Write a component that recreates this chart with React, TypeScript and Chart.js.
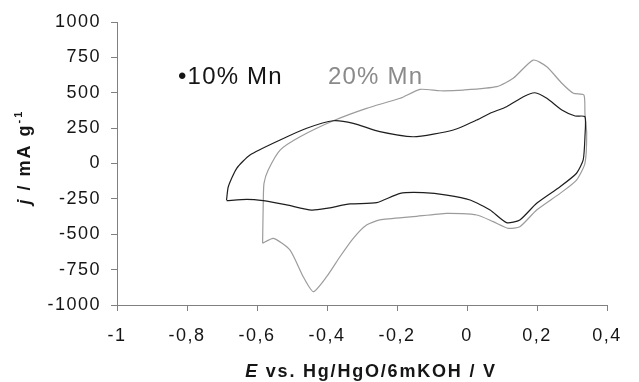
import React, { useEffect, useRef } from "react";
import { Chart, registerables } from "chart.js";

Chart.register(...registerables);

// 10% Mn cyclic voltammogram (closed loop: anodic branch left→right, cathodic branch right→left)
const potential10 = [
  -0.687, -0.682, -0.658, -0.62, -0.534, -0.458, -0.382, -0.325, -0.249, -0.153, -0.039, 0.028, 0.066, 0.113,
  0.161, 0.194, 0.228, 0.271, 0.309, 0.337, 0.337, 0.332, 0.313, 0.266, 0.199, 0.151, 0.113, 0.066, 0.009,
  -0.058, -0.125, -0.191, -0.258, -0.334, -0.401, -0.444, -0.515, -0.582, -0.629, -0.687,
];
const current10 = [
  -258, -164, -34, 60, 166, 249, 302, 284, 225, 189, 237, 307, 355, 401, 472, 500, 461, 378, 336, 331, 189, 25,
  -69, -164, -281, -399, -418, -329, -258, -223, -206, -211, -277, -286, -317, -329, -293, -263, -253, -263,
];

// 20% Mn cyclic voltammogram
const potential20 = [
  -0.584, -0.582, -0.58, -0.568, -0.534, -0.477, -0.382, -0.287, -0.191, -0.134, -0.077, -0.011, 0.085, 0.132,
  0.189, 0.228, 0.271, 0.304, 0.334, 0.337, 0.342, 0.337, 0.313, 0.266, 0.199, 0.151, 0.118, 0.075, 0.028,
  -0.058, -0.153, -0.249, -0.287, -0.325, -0.363, -0.401, -0.439, -0.468, -0.506, -0.553, -0.584,
];
const current20 = [
  -564, -258, -140, -46, 95, 189, 302, 390, 461, 524, 514, 519, 543, 602, 731, 684, 567, 496, 484, 355, 213, 1,
  -117, -211, -329, -447, -458, -411, -364, -352, -376, -399, -435, -529, -659, -800, -906, -800, -611, -529,
  -564,
];

const seriesLabels = ["•10% Mn", "20% Mn"];
const xTitleParts = ["E", " vs. Hg/HgO/6mKOH / V"];
const yTitleParts = ["j", " / mA g", "-1"];

const FONT = '"Liberation Sans", Arial, Helvetica, sans-serif';

function toPoints(xs: number[], ys: number[]) {
  return xs.map((x, i) => ({ x, y: ys[i] }));
}

function fmtPotential(v: number) {
  const r = Math.round(v * 10) / 10;
  if (Number.isInteger(r)) return String(r === 0 ? 0 : r);
  return r.toFixed(1).replace(".", ",");
}

const annotate = {
  id: "annotate",
  beforeDraw(chart: any) {
    chart.ctx.letterSpacing = "1.5px";
  },
  afterDraw(chart: any) {
    const ctx: CanvasRenderingContext2D = chart.ctx;
    ctx.save();
    ctx.textAlign = "left";
    ctx.textBaseline = "alphabetic";

    // in-plot legend labels
    ctx.font = `24px ${FONT}`;
    (ctx as any).letterSpacing = "1.2px";
    ctx.fillStyle = "#151515";
    ctx.fillText(seriesLabels[0], 178, 84);
    ctx.fillStyle = "#8a8a8a";
    ctx.fillText(seriesLabels[1], 328, 84);

    // x axis title
    (ctx as any).letterSpacing = "1.8px";
    ctx.fillStyle = "#151515";
    const fItalic = `italic bold 18px ${FONT}`;
    const fBold = `bold 18px ${FONT}`;
    ctx.font = fItalic;
    const w1 = ctx.measureText(xTitleParts[0]).width;
    ctx.font = fBold;
    const w2 = ctx.measureText(xTitleParts[1]).width;
    const sx = 371 - (w1 + w2) / 2;
    ctx.font = fItalic;
    ctx.fillText(xTitleParts[0], sx, 377);
    ctx.font = fBold;
    ctx.fillText(xTitleParts[1], sx + w1, 377);

    // y axis title (rotated)
    ctx.save();
    ctx.translate(29.5, 157);
    ctx.rotate(-Math.PI / 2);
    (ctx as any).letterSpacing = "2px";
    const fSup = `bold 11px ${FONT}`;
    ctx.font = fItalic;
    const a = ctx.measureText(yTitleParts[0]).width;
    ctx.font = fBold;
    const b = ctx.measureText(yTitleParts[1]).width;
    ctx.font = fSup;
    const c = ctx.measureText(yTitleParts[2]).width;
    const start = -(a + b + c) / 2;
    ctx.font = fItalic;
    ctx.fillText(yTitleParts[0], start, 0);
    ctx.font = fBold;
    ctx.fillText(yTitleParts[1], start + a, 0);
    ctx.font = fSup;
    ctx.fillText(yTitleParts[2], start + a + b, -8);
    ctx.restore();

    ctx.restore();
  },
};

export default function App() {
  const canvasRef = useRef<HTMLCanvasElement | null>(null);

  useEffect(() => {
    document.body.style.margin = "0";
    const canvas = canvasRef.current;
    if (!canvas) return;
    const axisColor = "#808080";
    const chart = new Chart(canvas, {
      type: "scatter",
      data: {
        datasets: [
          {
            label: seriesLabels[0],
            data: toPoints(potential10, current10),
            showLine: true,
            borderColor: "#1e1e1e",
            borderWidth: 1.2,
            pointRadius: 0,
            tension: 0.2,
            fill: false,
          },
          {
            label: seriesLabels[1],
            data: toPoints(potential20, current20),
            showLine: true,
            borderColor: "#9c9c9c",
            borderWidth: 1.2,
            pointRadius: 0,
            tension: 0.2,
            fill: false,
          },
        ],
      },
      options: {
        animation: false,
        responsive: false,
        devicePixelRatio: 1,
        layout: { padding: { top: 22, right: 32, left: 0, bottom: 0 } },
        plugins: { legend: { display: false }, tooltip: { enabled: false } },
        scales: {
          x: {
            type: "linear",
            min: -1,
            max: 0.4,
            ticks: {
              stepSize: 0.2,
              callback: (v: any) => fmtPotential(Number(v)),
              color: "#151515",
              font: { family: FONT, size: 18 },
              padding: 14,
              maxRotation: 0,
            },
            grid: { display: true, drawOnChartArea: false, drawTicks: true, tickLength: 6, color: axisColor },
            border: { display: true, color: axisColor, width: 1 },
            afterFit: (scale: any) => {
              scale.height = 77;
            },
          },
          y: {
            type: "linear",
            min: -1000,
            max: 1000,
            ticks: {
              stepSize: 250,
              callback: (v: any) => String(v),
              color: "#151515",
              font: { family: FONT, size: 18 },
              padding: 10,
            },
            grid: { display: true, drawOnChartArea: false, drawTicks: true, tickLength: 6, color: axisColor },
            border: { display: true, color: axisColor, width: 1 },
            afterFit: (scale: any) => {
              scale.width = 117;
            },
          },
        },
      },
      plugins: [annotate],
    } as any);
    return () => chart.destroy();
  }, []);

  return (
    <div style={{ width: 639, height: 382 }}>
      <canvas ref={canvasRef} width={639} height={382} style={{ display: "block", width: 639, height: 382 }} />
    </div>
  );
}
